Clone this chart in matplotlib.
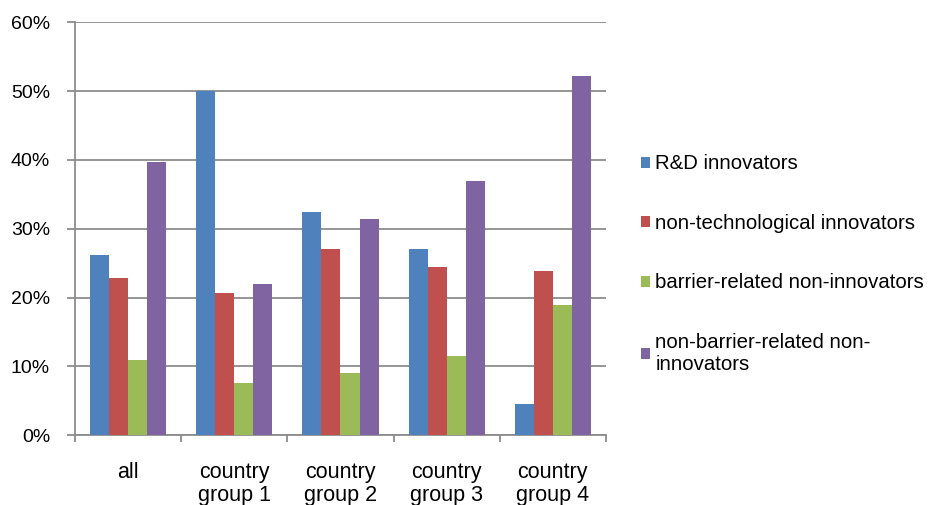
import numpy as np
import matplotlib.pyplot as plt

plt.rcParams['font.family'] = ['Liberation Sans', 'DejaVu Sans']
plt.rcParams['font.size'] = 14

# categories and shares per innovator type
groups = ['all', 'country\ngroup 1', 'country\ngroup 2', 'country\ngroup 3', 'country\ngroup 4']
rd_innovators = [26.2, 50.0, 32.5, 27.0, 4.6]
non_tech_innovators = [22.9, 20.6, 27.0, 24.5, 23.9]
barrier_non_innov = [10.9, 7.6, 9.0, 11.5, 18.9]
non_barrier_non_innov = [39.7, 22.0, 31.4, 36.9, 52.2]

series = [
    ('R&D innovators', rd_innovators, '#4F81BD'),
    ('non-technological innovators', non_tech_innovators, '#C0504D'),
    ('barrier-related non-innovators', barrier_non_innov, '#9BBB59'),
    ('non-barrier-related non-\ninnovators', non_barrier_non_innov, '#8064A2'),
]

fig = plt.figure(figsize=(9.38, 5.05), dpi=100)
ax = fig.add_axes([0.080, 0.138, 0.566, 0.818])

x = np.arange(len(groups))
w = 0.179
for i, (name, vals, col) in enumerate(series):
    ax.bar(x + (i - 1.5) * w, vals, width=w, color=col, label=name, zorder=3)

grid_col = '#8c8c8c'
ax.set_ylim(0, 60)
ax.set_yticks(range(0, 61, 10))
ax.set_yticklabels([f'{v}%' for v in range(0, 61, 10)])
ax.yaxis.grid(True, color=grid_col, linewidth=1.3, zorder=0)
ax.set_xlim(-0.5, len(groups) - 0.5)
ax.set_xticks(x)
ax.set_xticklabels(groups, linespacing=1.15, fontsize=15.5)
ax.set_xticks(np.arange(-0.5, len(groups), 1.0), minor=True)
ax.tick_params(axis='x', which='major', length=0, pad=19)
ax.tick_params(axis='x', which='minor', length=5, width=1.3, color=grid_col, direction='out')
ax.tick_params(axis='y', length=6, width=1.3, color=grid_col, direction='out', pad=12)

for side in ['top', 'right']:
    ax.spines[side].set_visible(False)
for side in ['left', 'bottom']:
    ax.spines[side].set_color(grid_col)
    ax.spines[side].set_linewidth(1.3)

fig.legend(loc='center left', bbox_to_anchor=(0.664, 0.477), frameon=False,
           handlelength=0.45, handleheight=0.45, handletextpad=0.25,
           labelspacing=1.98, fontsize=14.7)

fig.savefig('out.png', dpi=100)
